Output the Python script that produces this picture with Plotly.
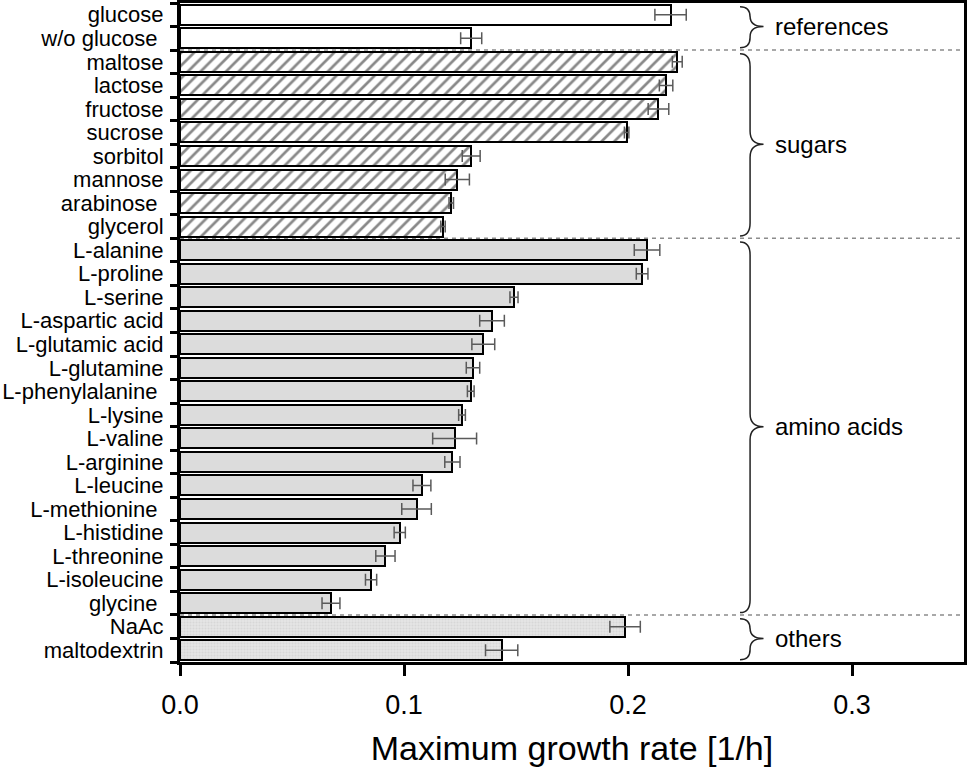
import plotly.graph_objects as go

categories = ["glucose", "w/o glucose", "maltose", "lactose", "fructose", "sucrose",
              "sorbitol", "mannose", "arabinose", "glycerol",
              "L-alanine", "L-proline", "L-serine", "L-aspartic acid", "L-glutamic acid",
              "L-glutamine", "L-phenylalanine", "L-lysine", "L-valine", "L-arginine",
              "L-leucine", "L-methionine", "L-histidine", "L-threonine", "L-isoleucine",
              "glycine", "NaAc", "maltodextrin"]
tick_labels = ["glucose", "w/o glucose\u00a0", "maltose", "lactose", "fructose", "sucrose",
               "sorbitol", "mannose", "arabinose\u00a0", "glycerol",
               "L-alanine", "L-proline", "L-serine", "L-aspartic acid", "L-glutamic acid",
               "L-glutamine", "L-phenylalanine\u00a0", "L-lysine", "L-valine", "L-arginine",
               "L-leucine", "L-methionine\u00a0", "L-histidine", "L-threonine", "L-isoleucine",
               "glycine\u00a0", "NaAc", "maltodextrin"]
growth_rate = [0.219, 0.130, 0.222, 0.217, 0.2136, 0.1994,
               0.130, 0.1238, 0.1211, 0.1174,
               0.2085, 0.2063, 0.1491, 0.1393, 0.1354,
               0.1308, 0.1298, 0.1259, 0.1226, 0.1216,
               0.108, 0.1056, 0.0981, 0.0917, 0.0853,
               0.0674, 0.1987, 0.1436]
growth_sd = [0.007, 0.0047, 0.0022, 0.003, 0.0046, 0.001,
             0.004, 0.0054, 0.001, 0.001,
             0.0057, 0.0026, 0.0018, 0.0055, 0.0051,
             0.003, 0.0015, 0.0015, 0.0098, 0.0034,
             0.004, 0.0066, 0.0025, 0.0043, 0.0025,
             0.004, 0.0068, 0.0072]
group_names = ["references", "sugars", "amino acids", "others"]
group_sizes = [2, 8, 16, 2]

FONT = "Liberation Sans, Arial, sans-serif"

styles = [
    dict(color="white"),
    dict(color="white", pattern=dict(shape="/", fgcolor="#111111", bgcolor="white",
                                     size=9, solidity=0.3, fillmode="overlay")),
    dict(color="#dcdcdc"),
    dict(color="#e2e2e2", pattern=dict(shape=".", fgcolor="#c8c8c8", bgcolor="#e6e6e6",
                                       size=3, solidity=0.4, fillmode="overlay")),
]

fig = go.Figure()
start = 0
bounds = []
for gname, size, st in zip(group_names, group_sizes, styles):
    idx = list(range(start, start + size))
    fig.add_trace(go.Bar(
        x=[growth_rate[i] for i in idx],
        y=idx,
        orientation="h",
        width=0.85,
        marker=dict(line=dict(color="black", width=2), **st),
        error_x=dict(type="data", array=[growth_sd[i] for i in idx],
                     color="#5a5a5a", thickness=1.5, width=6),
        name=gname,
        showlegend=False,
    ))
    bounds.append((start, start + size - 1))
    start += size

shapes = []
annotations = []
# dashed separators between groups
for (a, b) in bounds[:-1]:
    shapes.append(dict(type="line", xref="x domain", yref="y", x0=0, x1=1,
                       y0=b + 0.5, y1=b + 0.5,
                       line=dict(color="#8c8c8c", width=1.5, dash="4px,4px"),
                       layer="below"))

# curly braces
x_tip, x_mid, x_pt = 0.25, 0.2545, 0.2605
for gname, (a, b) in zip(group_names, bounds):
    ya = a - 0.5 + 0.16
    yb = b + 0.5 - 0.1
    ym = (a + b) / 2.0
    r = min(0.55, (yb - ya) / 4.0)
    path = (f"M {x_tip},{ya} Q {x_mid},{ya} {x_mid},{ya + r} "
            f"L {x_mid},{ym - r} Q {x_mid},{ym} {x_pt},{ym} "
            f"Q {x_mid},{ym} {x_mid},{ym + r} "
            f"L {x_mid},{yb - r} Q {x_mid},{yb} {x_tip},{yb}")
    shapes.append(dict(type="path", xref="x", yref="y", path=path,
                       line=dict(color="#222222", width=1.5)))
    annotations.append(dict(x=0.2648, y=ym, xref="x", yref="y", text=gname,
                            showarrow=False, xanchor="left", yanchor="middle",
                            font=dict(family=FONT, size=24, color="black")))

fig.update_layout(
    width=967, height=770,
    margin=dict(l=180, r=3, t=3, b=108, autoexpand=False),
    plot_bgcolor="white", paper_bgcolor="white",
    bargap=0,
    shapes=shapes, annotations=annotations,
    font=dict(family=FONT, color="black"),
)
fig.update_xaxes(
    range=[0, 0.35], tickvals=[0, 0.1, 0.2, 0.3], ticktext=["0.0", "0.1", "0.2", "0.3"],
    ticks="outside", ticklen=11, tickwidth=2.5, tickcolor="black",
    ticklabelstandoff=6,
    showline=True, linecolor="black", linewidth=2.5, mirror=True,
    showgrid=False, zeroline=False, automargin=False,
    tickfont=dict(family=FONT, size=27),
    title=dict(text="Maximum growth rate [1/h]", font=dict(family=FONT, size=34), standoff=18),
)
fig.update_yaxes(
    range=[len(categories) - 0.5, -0.5],
    tickvals=list(range(len(categories))), ticktext=tick_labels,
    ticks="", ticklabelstandoff=9, automargin=False,
    minor=dict(tickvals=[i + 0.5 for i in range(-1, len(categories))],
               ticks="outside", ticklen=7, tickwidth=2.5, tickcolor="black"),
    showline=True, linecolor="black", linewidth=3, mirror=True,
    showgrid=False, zeroline=False,
    tickfont=dict(family=FONT, size=22),
)

fig.write_html("out.html", config={"displayModeBar": False},
               post_script="document.body.style.margin='0';document.body.style.overflow='hidden';")
